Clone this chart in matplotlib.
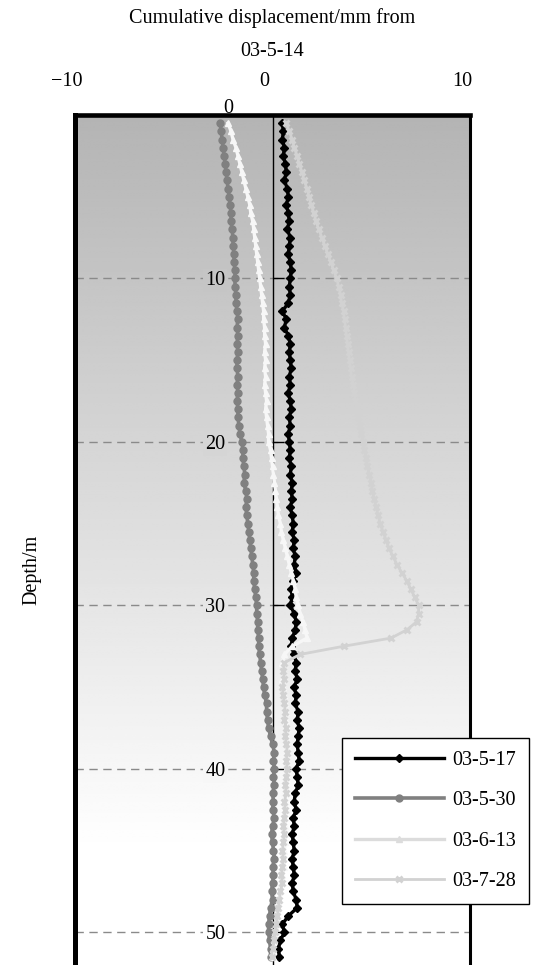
import numpy as np
import matplotlib
matplotlib.use("Agg")
import matplotlib.pyplot as plt
from matplotlib.lines import Line2D
from matplotlib.transforms import ScaledTranslation

plt.rcParams['font.family'] = ['Liberation Serif', 'DejaVu Serif']
plt.rcParams['font.size'] = 14.5

# profundidade das leituras (m), de 0,5 em 0,5
depth = np.arange(0.5, 52.0, 0.5)

d0517 = [0.5, 0.55, 0.5, 0.6, 0.55, 0.65, 0.7, 0.6, 0.75, 0.8,
         0.7, 0.8, 0.85, 0.75, 0.9, 0.85, 0.8, 0.9, 0.95, 0.9,
         0.85, 0.9, 0.8, 0.5, 0.7, 0.6, 0.8, 0.9, 0.85, 0.9,
         0.95, 0.85, 0.9, 0.8, 0.9, 0.95, 0.85, 0.9, 0.8, 0.85,
         0.9, 0.85, 0.95, 0.9, 1.0, 0.95, 1.0, 0.9, 1.0, 1.05,
         1.0, 1.1, 1.05, 1.15, 1.1, 1.2, 1.05, 0.95, 1.0, 0.9,
         1.1, 1.2, 1.15, 1.0, 0.95, 1.1, 1.2, 1.15, 1.25, 1.1,
         1.2, 1.15, 1.3, 1.25, 1.35, 1.3, 1.25, 1.3, 1.35, 1.2,
         1.25, 1.3, 1.15, 1.1, 1.2, 1.05, 1.1, 1.0, 1.05, 1.1,
         1.0, 1.05, 1.1, 1.0, 1.05, 1.2, 1.25, 0.8, 0.5, 0.6,
         0.4, 0.3, 0.35]

d0530 = [-2.65, -2.6, -2.55, -2.5, -2.45, -2.4, -2.35, -2.3, -2.25, -2.2,
         -2.15, -2.1, -2.1, -2.05, -2.0, -2.0, -1.95, -1.95, -1.9, -1.9,
         -1.9, -1.85, -1.85, -1.8, -1.75, -1.8, -1.75, -1.8, -1.75, -1.8,
         -1.8, -1.75, -1.8, -1.75, -1.8, -1.75, -1.75, -1.7, -1.65, -1.55,
         -1.5, -1.5, -1.45, -1.4, -1.45, -1.35, -1.3, -1.35, -1.3, -1.25,
         -1.2, -1.15, -1.1, -1.05, -1.0, -0.95, -0.95, -0.9, -0.85, -0.8,
         -0.8, -0.75, -0.75, -0.7, -0.7, -0.65, -0.6, -0.55, -0.5, -0.45,
         -0.4, -0.3, -0.3, -0.25, -0.2, -0.1, 0.0, 0.1, 0.05, 0.1,
         0.05, 0.1, 0.0, 0.05, 0.0, 0.1, 0.0, -0.05, 0.0, 0.05,
         0.1, 0.0, 0.05, 0.0, -0.05, 0.0, -0.1, -0.15, -0.2, -0.2,
         -0.15, -0.1, -0.1]

d0613 = [-2.25, -2.1, -2.0, -1.85, -1.75, -1.65, -1.55, -1.45, -1.35, -1.25,
         -1.15, -1.1, -1.0, -0.95, -0.9, -0.85, -0.8, -0.75, -0.7, -0.65,
         -0.6, -0.55, -0.5, -0.45, -0.45, -0.4, -0.4, -0.35, -0.4, -0.35,
         -0.4, -0.35, -0.4, -0.35, -0.3, -0.35, -0.3, -0.25, -0.2, -0.2,
         -0.1, -0.05, 0.0, 0.05, 0.1, 0.15, 0.2, 0.25, 0.3, 0.4,
         0.45, 0.55, 0.65, 0.75, 0.85, 0.95, 1.05, 1.15, 1.2, 1.3,
         1.4, 1.55, 1.65, 1.75, 1.0, 0.6, 0.5, 0.55, 0.5, 0.55,
         0.6, 0.65, 0.7, 0.7, 0.75, 0.7, 0.75, 0.7, 0.8, 0.7,
         0.65, 0.7, 0.6, 0.65, 0.7, 0.6, 0.65, 0.6, 0.65, 0.6,
         0.55, 0.6, 0.5, 0.45, 0.4, 0.35, 0.3, 0.25, 0.2, 0.15,
         0.1, 0.05, 0.0]

d0728 = [0.7, 0.85, 1.0, 1.1, 1.25, 1.35, 1.5, 1.6, 1.75, 1.85,
         1.95, 2.1, 2.2, 2.35, 2.5, 2.65, 2.8, 2.95, 3.1, 3.25,
         3.35, 3.45, 3.5, 3.6, 3.65, 3.7, 3.75, 3.8, 3.85, 3.9,
         3.95, 4.0, 4.1, 4.15, 4.2, 4.3, 4.35, 4.45, 4.5, 4.6,
         4.65, 4.75, 4.8, 4.9, 5.0, 5.05, 5.15, 5.25, 5.35, 5.45,
         5.6, 5.75, 5.9, 6.1, 6.3, 6.55, 6.8, 7.0, 7.2, 7.4,
         7.4, 7.3, 6.8, 6.0, 3.6, 1.4, 0.6, 0.55, 0.6, 0.5,
         0.55, 0.6, 0.65, 0.6, 0.7, 0.65, 0.7, 0.75, 0.7, 0.75,
         0.7, 0.65, 0.7, 0.6, 0.65, 0.6, 0.55, 0.6, 0.55, 0.5,
         0.55, 0.5, 0.45, 0.5, 0.4, 0.35, 0.3, 0.25, 0.2, 0.15,
         0.1, 0.0, -0.05]

labels = ['03-5-17', '03-5-30', '03-6-13', '03-7-28']
x_ticks = [-10, 0, 10]
y_ticks = [0, 10, 20, 30, 40, 50]
y_max = 52


def bg_level(d):
    # cinza do fundo em função da profundidade
    return min(180 + 75 * d / 45.0, 255) / 255.0


fig = plt.figure(figsize=(5.43, 9.65), dpi=100)
ax = fig.add_axes([75 / 543, 0, 395 / 543, 850 / 965])
ax.set_xlim(-10, 10)
ax.set_ylim(y_max, 0)

# fundo em degradê
grad = np.array([[bg_level(d)] for d in np.linspace(0, y_max, 300)])
ax.imshow(grad, cmap='gray', vmin=0, vmax=1, aspect='auto',
          extent=[-10, 10, y_max, 0], zorder=0, interpolation='bilinear')

# séries (estilo: cor, largura, marcador, tamanho)
styles = [
    dict(color='black', lw=2.4, marker='D', ms=4.5),
    dict(color='#808080', lw=2.6, marker='o', ms=5),
    dict(color='#f7f7f7', lw=2.4, marker='^', ms=5),
    dict(color='#d2d2d2', lw=2.0, marker='x', ms=5, mew=2),
]
for vals, lab, st in zip([d0517, d0530, d0613, d0728], labels, styles):
    ax.plot(vals, depth, zorder=3, label=lab, **st)

# eixo y passando pelo zero
for s in ['right', 'top', 'bottom']:
    ax.spines[s].set_visible(False)
ax.spines['left'].set_position(('data', 0))
ax.spines['left'].set_linewidth(1)
ax.spines['left'].set_zorder(1.5)

# moldura grossa
for xs, ys, lw in [([0, 0], [0, 1], 3.6), ([0, 1], [1, 1], 3.3), ([1, 1], [0, 1], 2.2)]:
    ax.add_line(Line2D(xs, ys, transform=ax.transAxes, color='black', lw=lw,
                       clip_on=False, zorder=4, solid_capstyle='projecting'))

ax.set_yticks(y_ticks)
ax.tick_params(axis='y', direction='in', length=8, width=1, pad=34)
for lab, d in zip(ax.get_yticklabels(), y_ticks):
    if d > 0:
        g = bg_level(d)
        lab.set_bbox(dict(facecolor=(g, g, g), edgecolor='none', pad=1.5))
    else:
        lab.set_transform(lab.get_transform() + ScaledTranslation(8 / 100, 9 / 100, fig.dpi_scale_trans))
ax.yaxis.grid(True, color='#8a8a8a', lw=1, linestyle=(0, (6, 4)))
ax.set_axisbelow(True)
ax.set_ylabel('Depth/m')
ax.yaxis.set_label_coords(-0.084, 0.465)

ax.xaxis.set_ticks_position('top')
ax.xaxis.set_label_position('top')
ax.set_xticks(x_ticks)
ax.set_xticklabels(['\u221210', '0', '10'])
ax.tick_params(axis='x', length=0, pad=17)
for lab in ax.get_xticklabels():
    lab.set_transform(lab.get_transform() + ScaledTranslation(-8 / 100, 0, fig.dpi_scale_trans))
ax.set_xlabel('Cumulative displacement/mm from\n03-5-14', linespacing=1.95, labelpad=12)

# legenda: o traço de 03-6-13 fica um pouco mais escuro para aparecer no branco
handles, _ = ax.get_legend_handles_labels()
leg_handles = []
for h in handles:
    c = '#dcdcdc' if h.get_label() == '03-6-13' else h.get_color()
    leg_handles.append(Line2D([], [], color=c, lw=h.get_linewidth(), marker=h.get_marker(),
                              ms=h.get_markersize(), mew=h.get_markeredgewidth()))
leg = ax.legend(leg_handles, labels, loc='upper left', bbox_to_anchor=(0.676, 0.267),
                borderaxespad=0, fancybox=False, framealpha=1, edgecolor='black',
                handlelength=4.4, handletextpad=0.4, labelspacing=1.05, borderpad=0.65,
                numpoints=1)
leg.get_frame().set_linewidth(1)
leg.set_zorder(5)

fig.savefig('out.png', dpi=100)
